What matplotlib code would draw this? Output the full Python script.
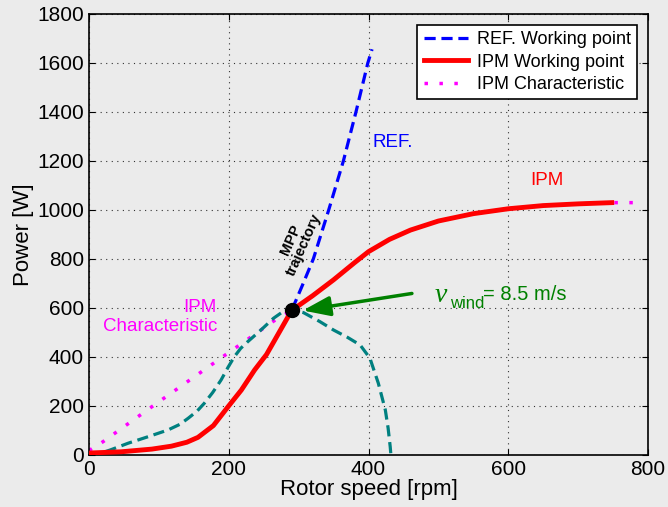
import matplotlib.pyplot as plt

plt.rcParams['font.family'] = ['Liberation Sans', 'DejaVu Sans']

# REF. working point (MPP trajectory)
ref_rpm = [0, 46, 90, 118, 140, 156, 178, 199, 218, 237, 254, 273, 283, 290, 305, 321, 343, 364, 382, 399, 405]
ref_p = [8, 13, 24, 36, 52, 72, 120, 197, 265, 347, 410, 505, 555, 590, 690, 800, 1000, 1200, 1400, 1600, 1656]

# IPM working point
ipm_rpm = [0, 46, 90, 118, 140, 156, 178, 199, 218, 237, 254, 273, 283, 290, 320, 350, 380, 400, 430, 460, 500, 550, 600, 650, 700, 748]
ipm_p = [8, 13, 24, 36, 52, 72, 120, 197, 265, 347, 410, 505, 555, 590, 650, 715, 785, 830, 880, 918, 955, 985, 1005, 1018, 1025, 1030]

# IPM characteristic
chr_rpm = [0, 20, 90, 195, 265, 290, 320, 350, 380, 400, 430, 460, 500, 550, 600, 650, 700, 748, 785]
chr_p = [18, 54, 197, 408, 548, 590, 650, 715, 785, 830, 880, 918, 955, 985, 1005, 1018, 1025, 1030, 1030]

# turbine power curve at v_wind = 8.5 m/s
wind_rpm = [0, 13, 30, 56, 85, 113, 130, 142, 155, 165, 177, 189, 199, 208, 217, 227, 246, 264, 280, 290, 307, 330, 350, 370, 388, 402, 414, 424, 428, 431, 432]
wind_p = [3, 4, 20, 48, 75, 102, 125, 150, 180, 211, 255, 306, 358, 401, 435, 462, 510, 558, 590, 594, 581, 545, 510, 480, 449, 395, 293, 184, 110, 34, 0]

mpp = (290, 590)

bg = '#ebebeb'
fig = plt.figure(figsize=(6.68, 5.07), dpi=100, facecolor=bg)
ax = fig.add_axes([0.1332, 0.1026, 0.837, 0.8698], facecolor=bg)

ax.plot(ref_rpm, ref_p, color='#0000ff', lw=2.3, ls=(0, (3.5, 1.8)), label='REF. Working point', zorder=3)
ax.plot(chr_rpm, chr_p, color='#ff00ff', lw=2.5, ls=(0, (1, 3.3)), label='IPM Characteristic', zorder=2)
ax.plot(ipm_rpm, ipm_p, color='#ff0000', lw=3.5, label='IPM Working point', zorder=4)
ax.plot(wind_rpm, wind_p, color='#008080', lw=2.3, ls=(0, (3.5, 1.8)), zorder=3)
ax.plot(*mpp, 'o', color='black', ms=10, zorder=6)

ax.set_xlim(0, 800)
ax.set_ylim(0, 1800)
ax.set_xticks(range(0, 801, 200))
ax.set_yticks(range(0, 1801, 200))
ax.tick_params(direction='in', top=True, right=True, labelsize=15, length=4)
ax.grid(True, ls=(0, (1, 4)), color='#333333', lw=0.8)
ax.set_xlabel('Rotor speed [rpm]', fontsize=16, labelpad=0)
ax.set_ylabel('Power [W]', fontsize=16, labelpad=2)
for s in ax.spines.values():
    s.set_linewidth(1.2)

handles, labels = ax.get_legend_handles_labels()
order = [labels.index(l) for l in ['REF. Working point', 'IPM Working point', 'IPM Characteristic']]
leg = ax.legend([handles[i] for i in order], [labels[i] for i in order],
                loc='upper right', fontsize=13, fancybox=False, framealpha=1,
                edgecolor='black', borderaxespad=0.6, handlelength=2.45,
                labelspacing=0.3, borderpad=0.35, handletextpad=0.5)
leg.get_frame().set_linewidth(1.2)

ax.text(405, 1275, 'REF.', color='#0000ff', fontsize=13.5, va='center')
ax.text(632, 1122, 'IPM', color='#ff0000', fontsize=13.5, va='center')
ax.text(183, 562, 'IPM\nCharacteristic', color='#ff00ff', fontsize=13.5,
        ha='right', va='center', linespacing=1.15)
ax.text(298, 868, 'MPP\ntrajectory', color='black', fontsize=10.5, fontweight='bold',
        rotation=66, ha='center', va='center', linespacing=1.0)

ax.annotate('', xy=(302, 588), xytext=(466, 661),
            arrowprops=dict(arrowstyle='-|>,head_length=1.65,head_width=0.6', color='#008000', lw=2.5))
ax.text(495, 653, 'v', color='#008000', fontsize=20, family='Liberation Serif', style='italic', va='center')
ax.text(516, 620, 'wind', color='#008000', fontsize=12, va='center')
ax.text(564, 655, '= 8.5 m/s', color='#008000', fontsize=14.5, va='center')

fig.savefig('out.png', dpi=100, facecolor=bg)
